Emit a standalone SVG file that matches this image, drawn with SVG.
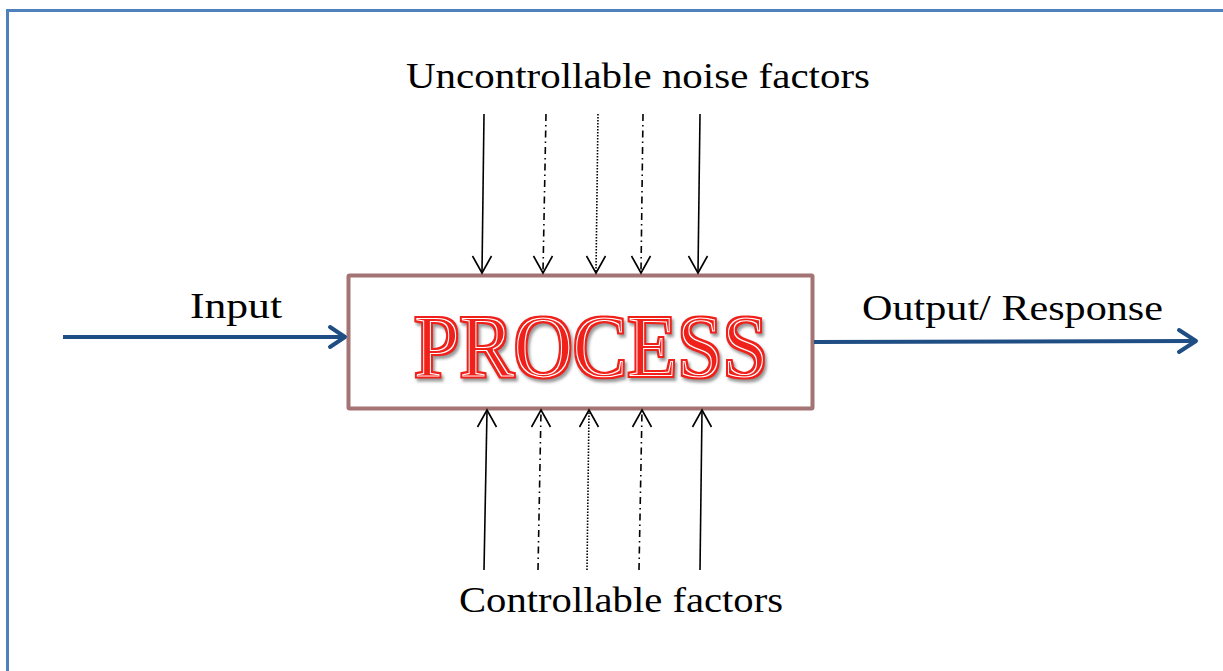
<svg xmlns="http://www.w3.org/2000/svg" width="1223" height="671" viewBox="0 0 1223 671">
<defs>
<style>
.lbl{font-family:"Liberation Serif","DejaVu Serif",serif;font-size:36px;fill:#000}
.thin{stroke:#000;stroke-width:1.6;fill:none}
.dd{stroke-dasharray:7 4 1.5 4}
.dot{stroke-dasharray:1.5 1.5}
.head{stroke:#000;stroke-width:1.6;fill:none}
.big{stroke:#1f4e85;stroke-width:4;fill:none}
.proc{font-family:"Liberation Serif","DejaVu Serif",serif;font-size:88px;fill:#f0201a}
</style>
<filter id="inline" x="-5%" y="-25%" width="115%" height="160%" color-interpolation-filters="sRGB">
<feMorphology in="SourceAlpha" operator="dilate" radius="2" result="D"/>
<feMorphology in="SourceAlpha" operator="erode" radius="1" result="E"/>
<feComposite in="SourceAlpha" in2="E" operator="out" result="ring"/>
<feFlood flood-color="#f0201a" result="red"/>
<feComposite in="red" in2="D" operator="in" result="redD"/>
<feFlood flood-color="#ffffff" result="w"/>
<feComposite in="w" in2="ring" operator="in" result="wring"/>
<feGaussianBlur in="D" stdDeviation="1.5" result="b"/>
<feOffset in="b" dx="2" dy="3" result="ob"/>
<feFlood flood-color="#808080" flood-opacity="0.8"/>
<feComposite in2="ob" operator="in" result="shadow"/>
<feMerge><feMergeNode in="shadow"/><feMergeNode in="redD"/><feMergeNode in="wring"/></feMerge>
</filter>
</defs>
<rect width="1223" height="671" fill="#fff"/>
<rect x="7.5" y="10.5" width="1300" height="800" fill="none" stroke="#4f81bd" stroke-width="3"/>
<g id="process">
<rect x="348.5" y="275.5" width="464" height="133" fill="#fff" stroke="#a47474" stroke-width="4" rx="1"/>
<text class="proc" x="414" y="376" textLength="354" lengthAdjust="spacingAndGlyphs" filter="url(#inline)">PROCESS</text>
</g>
<g id="label-noise"><text class="lbl" x="406" y="88" textLength="464" lengthAdjust="spacingAndGlyphs">Uncontrollable noise factors</text></g>
<g id="label-input"><text class="lbl" x="190" y="318" textLength="92" lengthAdjust="spacingAndGlyphs">Input</text></g>
<g id="label-output"><text class="lbl" x="862" y="320" textLength="301" lengthAdjust="spacingAndGlyphs">Output/ Response</text></g>
<g id="label-controllable"><text class="lbl" x="459" y="612" textLength="324" lengthAdjust="spacingAndGlyphs">Controllable factors</text></g>
<g id="connectors">
<line class="thin" x1="484" y1="114" x2="482" y2="272"/>
<polyline class="head" points="472.5,256 482,273 491.5,256"/>
<line class="thin dd" x1="546" y1="114" x2="543" y2="272"/>
<polyline class="head" points="533.5,256 543,273 552.5,256"/>
<line class="thin dot" x1="598" y1="114" x2="596" y2="272"/>
<polyline class="head" points="586.5,256 596,273 605.5,256"/>
<line class="thin dd" x1="643" y1="114" x2="641" y2="272"/>
<polyline class="head" points="631.5,256 641,273 650.5,256"/>
<line class="thin" x1="700" y1="114" x2="698" y2="272"/>
<polyline class="head" points="688.5,256 698,273 707.5,256"/>
<line class="thin" x1="484" y1="570" x2="487" y2="411"/>
<polyline class="head" points="477.5,427 487,410 496.5,427"/>
<line class="thin dd" x1="538" y1="570" x2="541" y2="411"/>
<polyline class="head" points="531.5,427 541,410 550.5,427"/>
<line class="thin dot" x1="587" y1="570" x2="589" y2="411"/>
<polyline class="head" points="579.5,427 589,410 598.5,427"/>
<line class="thin dd" x1="639" y1="570" x2="642" y2="411"/>
<polyline class="head" points="632.5,427 642,410 651.5,427"/>
<line class="thin" x1="700" y1="570" x2="702" y2="411"/>
<polyline class="head" points="692.5,427 702,410 711.5,427"/>
<line class="big" x1="63" y1="337" x2="344" y2="337"/>
<polyline class="big" points="330,327 345,337 330,347" stroke-linejoin="round" stroke-linecap="round"/>
<line class="big" x1="814" y1="342" x2="1195" y2="341"/>
<polyline class="big" points="1179,330 1196,341 1179,352" stroke-linejoin="round" stroke-linecap="round"/>
</g>
</svg>
